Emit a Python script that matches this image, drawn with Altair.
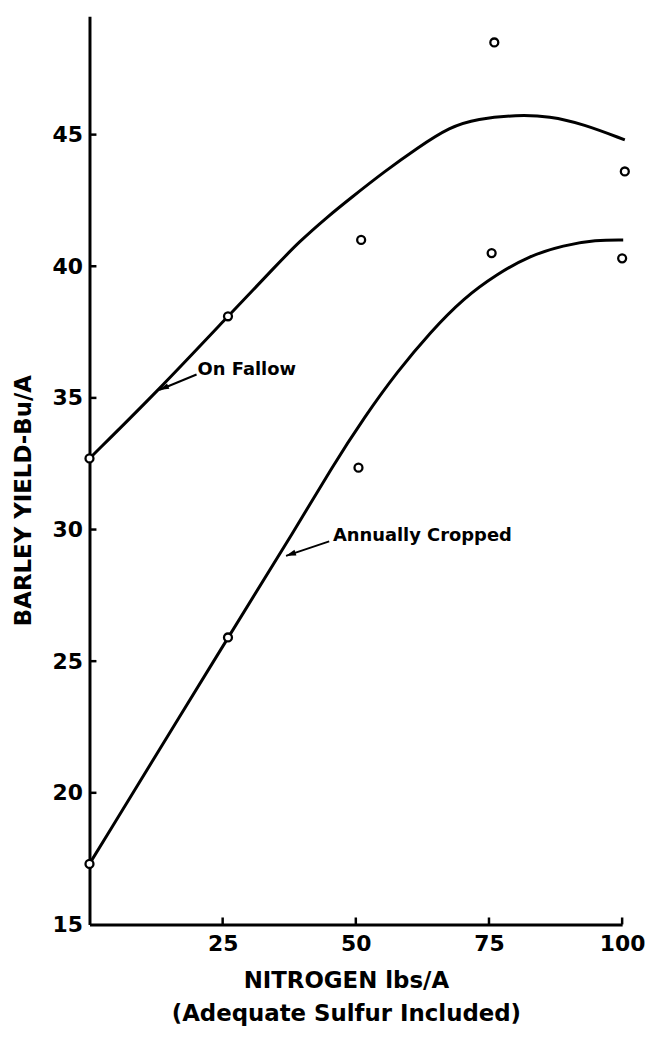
import altair as alt
import pandas as pd

# Observed points
fallow_x = [0, 26, 51, 76, 100.5]
fallow_obs = [32.7, 38.1, 41.0, 48.5, 43.6]
annual_x = [0, 26, 50.5, 75.5, 100]
annual_obs = [17.3, 25.9, 32.35, 40.5, 40.3]

# Fitted curves
fallow_curve_x = [0, 13, 26, 35.4, 39.2, 44.8, 49.1, 55.4, 61.6, 67.7, 72.8, 80.2, 86.4, 92.7, 100.5]
fallow_curve_y = [32.7, 35.3, 38.1, 40.1, 40.9, 41.9, 42.6, 43.6, 44.5, 45.3, 45.6, 45.75, 45.7, 45.4, 44.8]
annual_curve_x = [0, 26, 39.2, 45.3, 51.7, 57.8, 64.0, 70.3, 76.5, 82.6, 89.0, 95.1, 100.2]
annual_curve_y = [17.3, 25.9, 30.2, 32.3, 34.3, 36.0, 37.5, 38.8, 39.7, 40.4, 40.8, 41.0, 41.0]

# Axis ticks
x_ticks = [25, 50, 75, 100]
y_ticks = [15, 20, 25, 30, 35, 40, 45]

# Annotations
ann_text = ["On Fallow", "Annually Cropped"]
ann_x = [20.3, 45.7]
ann_y = [36.05, 29.75]
arrow_x = [20.1, 45.0]
arrow_y = [35.89, 29.55]
arrow_tip_x = [13.06, 36.9]
arrow_tip_y = [35.3, 29.0]
arrow_angle = [247, 251]

W, H = 536, 914
FONT = "DejaVu Sans"

xscale = alt.Scale(domain=[0, 100], nice=False, zero=False)
yscale = alt.Scale(domain=[15, 49.5], nice=False, zero=False)

xaxis = alt.Axis(values=x_ticks, title=["NITROGEN lbs/A", "(Adequate Sulfur Included)"],
                 labelPadding=9, labelFlush=False, titleX=258, titleY=63,
                 titleAlign="center", titleBaseline="alphabetic", titleLineHeight=34)
yaxis = alt.Axis(values=y_ticks, title="BARLEY YIELD-Bu/A", labelPadding=7, labelFlush=False,
                 titleX=-66, titleY=487, titleAngle=270, titleAlign="center",
                 titleBaseline="middle")


def X(field="x"):
    return alt.X(f"{field}:Q", scale=xscale, axis=xaxis)


def Y(field="y"):
    return alt.Y(f"{field}:Q", scale=yscale, axis=yaxis)


curves = pd.concat([
    pd.DataFrame({"x": fallow_curve_x, "y": fallow_curve_y, "s": "fallow"}),
    pd.DataFrame({"x": annual_curve_x, "y": annual_curve_y, "s": "annual"}),
])
obs = pd.concat([
    pd.DataFrame({"x": fallow_x, "y": fallow_obs}),
    pd.DataFrame({"x": annual_x, "y": annual_obs}),
])

lines = alt.Chart(curves).mark_line(color="black", strokeWidth=3, interpolate="basis").encode(
    x=X(), y=Y(), detail="s:N", order="x:Q")

ytick_df = pd.DataFrame({"y": y_ticks[1:]})
yticks = alt.Chart(ytick_df).mark_rule(color="black", strokeWidth=2.5).encode(
    y=Y(), x=alt.value(0), x2=alt.value(7))

xtick_df = pd.DataFrame({"x": x_ticks})
xticks = alt.Chart(xtick_df).mark_rule(color="black", strokeWidth=2.5).encode(
    x=X(), y=alt.value(H), y2=alt.value(H - 7))

arrow_df = pd.DataFrame({"x": arrow_x, "y": arrow_y, "x2": arrow_tip_x, "y2": arrow_tip_y,
                         "a": arrow_angle})
arrow_lines = alt.Chart(arrow_df).mark_rule(color="black", strokeWidth=2).encode(
    x=X(), y=Y(), x2="x2:Q", y2="y2:Q")
arrow_heads = alt.Chart(arrow_df).mark_point(
    shape="M0,0L0.3,1L-0.3,1Z", filled=True, color="black", size=400, opacity=1,
    strokeWidth=0).encode(x=X("x2"), y=Y("y2"), angle=alt.Angle("a:Q", scale=None))

points = alt.Chart(obs).mark_point(shape="circle", filled=True, fill="white", stroke="black",
                                   strokeWidth=2.3, size=64, opacity=1).encode(x=X(), y=Y())

ann_df = pd.DataFrame({"x": ann_x, "y": ann_y, "t": ann_text})
labels = alt.Chart(ann_df).mark_text(align="left", baseline="middle", font=FONT, fontSize=18,
                                     fontWeight="bold", color="black").encode(
    x=X(), y=Y(), text="t:N")

chart = alt.layer(lines, yticks, xticks, arrow_lines, arrow_heads, points, labels).properties(
    width=W, height=H, padding={"left": 5, "top": 5, "right": 0, "bottom": 0}
).configure_axis(
    domainColor="black", domainWidth=3, tickSize=0, grid=False,
    labelFont=FONT, labelFontWeight="bold", labelFontSize=22, labelColor="black",
    titleFont=FONT, titleFontWeight="bold", titleFontSize=23, titleColor="black",
    labelOverlap=False, labelBound=False
).configure_view(stroke=None)

chart.save("out.html", embed_options={"renderer": "svg", "actions": False})
